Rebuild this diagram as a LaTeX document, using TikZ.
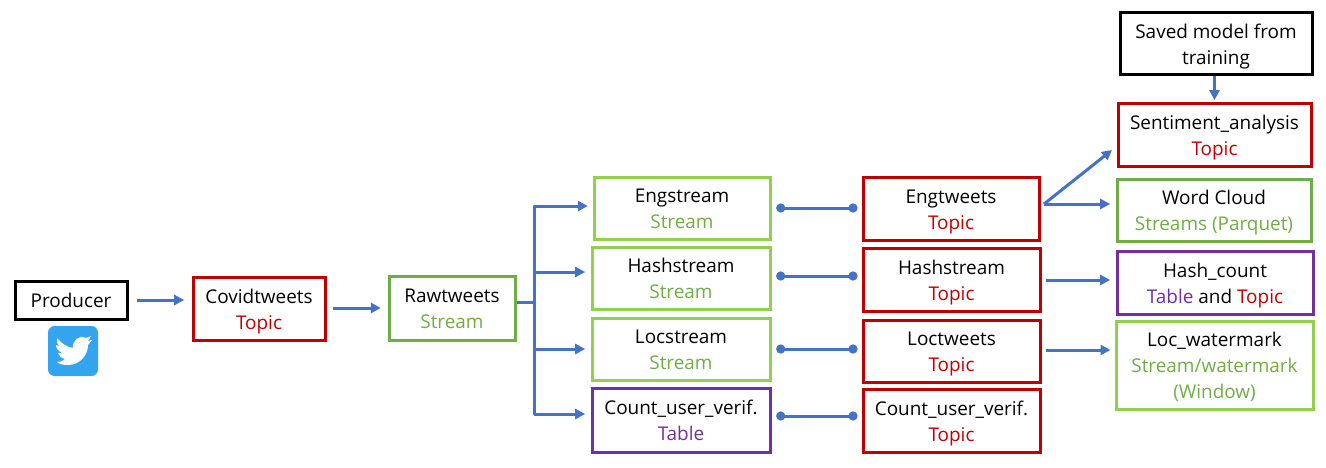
\documentclass[tikz,border=0pt]{standalone}
\usepackage{fontspec}
\setmainfont{Open Sans}
\usepackage{tikz}
\usetikzlibrary{arrows.meta,calc}
\definecolor{topicred}{HTML}{C00000}
\definecolor{streamgreen}{HTML}{70AD47}
\definecolor{lightgreen}{HTML}{92D050}
\definecolor{tablepurple}{HTML}{7030A0}
\definecolor{flowblue}{HTML}{4472C4}
\definecolor{birdblue}{HTML}{35A4EF}
\newcommand{\topstrut}{\rule{0pt}{15.8pt}}
\newcommand{\botstrut}{\rule[-4.3pt]{0pt}{4.3pt}}
\tikzstyle{box}=[draw,line width=2.25pt,align=center,inner sep=0pt,font=\fontsize{14.2}{19.5}\selectfont,text=black]
\tikzstyle{flow}=[draw=flowblue,line width=2.25pt,-{Triangle[length=7.5pt,width=7.5pt]}]
\tikzstyle{link}=[draw=flowblue,line width=2.25pt,{Circle[length=6.8pt,width=6.8pt]}-{Circle[length=6.8pt,width=6.8pt]}]
\tikzstyle{trunk}=[draw=flowblue,line width=2.25pt]
% name, left, top, right, bottom, colour, text
\newcommand{\bx}[7]{
  \node[box,draw=#6,minimum width=#4*0.75pt-#2*0.75pt,minimum height=#5*0.75pt-#3*0.75pt]
    (#1) at ({(#2+#4)/2},{(#3+#5)/2}) {\topstrut#7\botstrut};
}
\newcommand{\red}[1]{\textcolor{topicred}{#1}}
\newcommand{\grn}[1]{\textcolor{streamgreen}{#1}}
\newcommand{\pur}[1]{\textcolor{tablepurple}{#1}}

\begin{document}
\begin{tikzpicture}[x=0.75pt,y=-0.75pt]
  \useasboundingbox (0,0) rectangle (1326,467);
  % first row
  \bx{producer}{15}{281}{127}{319}{black}{Producer}
  \bx{covid}{193}{277}{325}{340}{topicred}{Covidtweets\\\red{Topic}}
  \bx{raw}{389}{276}{515}{340}{streamgreen}{Rawtweets\\\grn{Stream}}
  % streams
  \bx{eng}{594}{177}{770}{239}{lightgreen}{Engstream\\\grn{Stream}}
  \bx{hash}{592}{247}{770}{309}{lightgreen}{Hashstream\\\grn{Stream}}
  \bx{loc}{592}{318}{770}{380}{lightgreen}{Locstream\\\grn{Stream}}
  \bx{count}{592}{388}{770}{452}{tablepurple}{Count\_user\_verif.\\\pur{Table}}
  % topics
  \bx{engtw}{863}{177}{1039}{240}{topicred}{Engtweets\\\red{Topic}}
  \bx{hashtw}{863}{248}{1040}{311}{topicred}{Hashstream\\\red{Topic}}
  \bx{loctw}{863}{320}{1040}{382}{topicred}{Loctweets\\\red{Topic}}
  \bx{counttw}{863}{389}{1040}{452}{topicred}{Count\_user\_verif.\\\red{Topic}}
  % sinks
  \bx{saved}{1120}{13}{1312}{75}{black}{Saved model from\\training}
  \bx{senti}{1118}{103}{1311}{166}{topicred}{Sentiment\_analysis\\\red{Topic}}
  \bx{cloud}{1117}{179}{1311}{241}{streamgreen}{Word Cloud\\\grn{Streams (Parquet)}}
  \bx{hcount}{1117}{251}{1313}{314}{tablepurple}{Hash\_count\\\pur{Table} and \red{Topic}}
  \bx{water}{1116}{321}{1313}{409}{lightgreen}{Loc\_watermark\\\grn{Stream/watermark}\\\grn{(Window)}}
  % twitter icon
  \node[fill=birdblue,rounded corners=5pt,minimum size=37.5pt,inner sep=0pt] (twitter) at (73,351) {};
  \fill[white] (57,338) .. controls (62,344) and (67,347) .. (73,348)
    .. controls (72,341) and (79,334) .. (86,338) -- (91,336) -- (88,341) -- (92,340) -- (88,345)
    .. controls (88,355) and (80,365) .. (68,365) .. controls (63,365) and (59,364) .. (57,362)
    .. controls (60,362) and (63,361) .. (65,359) .. controls (61,358) and (59,356) .. (58,353)
    -- (62,353) .. controls (58,351) and (56,348) .. (56,345) -- (60,346) .. controls (57,344) and (56,341) .. (57,338) -- cycle;
  % flows
  \draw[flow,shorten <=6.5pt,shorten >=5.5pt] (producer.east) -- (covid.west |- producer.east);
  \draw[flow,shorten <=5pt,shorten >=5pt] (covid.east |- raw.west) -- (raw.west);
  \coordinate (branch) at (534,302);
  \coordinate (tapEng) at (534,206);
  \coordinate (tapHash) at (534,272);
  \coordinate (tapLoc) at (534,349);
  \coordinate (tapCount) at (534,414);
  \draw[trunk] (raw.east |- branch) -- (branch);
  \draw[trunk,line cap=round] (tapEng) -- (tapCount);
  \draw[flow,shorten >=3.5pt] (tapEng) -- (eng.west |- tapEng);
  \draw[flow,shorten >=4pt] (tapHash) -- (hash.west |- tapHash);
  \draw[flow,shorten >=4pt] (tapLoc) -- (loc.west |- tapLoc);
  \draw[flow,shorten >=4pt] (tapCount) -- (count.west |- tapCount);
  % links
  \coordinate (lvlEng) at (0,208);
  \coordinate (lvlHash) at (0,276);
  \coordinate (lvlLoc) at (0,349);
  \coordinate (lvlCount) at (0,416);
  \draw[link,shorten <=3.5pt,shorten >=3pt] (eng.east |- lvlEng) -- (engtw.west |- lvlEng);
  \draw[link,shorten <=3.5pt,shorten >=3pt] (hash.east |- lvlHash) -- (hashtw.west |- lvlHash);
  \draw[link,shorten <=3.5pt,shorten >=3pt] (loc.east |- lvlLoc) -- (loctw.west |- lvlLoc);
  \draw[link,shorten <=3.5pt,shorten >=3pt] (count.east |- lvlCount) -- (counttw.west |- lvlCount);
  % outputs
  \coordinate (engout) at (1044,204);
  \coordinate (sentin) at (1112,150);
  \draw[flow] (engout) -- (sentin);
  \draw[flow,shorten >=4pt] (engout) -- (cloud.west |- engout);
  \coordinate (lvlHcount) at (0,280);
  \coordinate (lvlWater) at (0,350);
  \draw[flow,shorten <=3pt,shorten >=4pt] (hashtw.east |- lvlHcount) -- (hcount.west |- lvlHcount);
  \draw[flow,shorten <=3pt,shorten >=3pt] (loctw.east |- lvlWater) -- (water.west |- lvlWater);
  \draw[flow,shorten >=1pt] (saved.south -| senti.north) -- (senti.north);
\end{tikzpicture}
\end{document}
